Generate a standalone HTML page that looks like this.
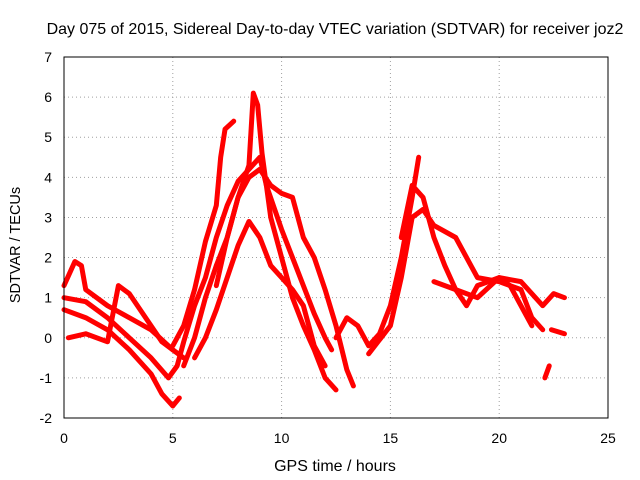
<!DOCTYPE html>
<html><head><meta charset="utf-8"><style>
body{margin:0;background:#fff;}
svg{display:block;font-family:"Liberation Sans",sans-serif;}
</style></head><body>
<svg id="chart" width="640" height="480">
<text x="335" y="34" text-anchor="middle" font-size="16">Day 075 of 2015, Sidereal Day-to-day VTEC variation (SDTVAR) for receiver joz2</text>
<text x="335" y="471" text-anchor="middle" font-size="16">GPS time / hours</text>
<text transform="translate(20,245) rotate(-90)" text-anchor="middle" font-size="14.5">SDTVAR / TECUs</text>
<g id="grid"></g><g id="series"></g><g id="ticks"></g>
<rect x="64" y="57" width="544" height="361" fill="none" stroke="#000"/>
</svg>
<script>
const xTicks=[0,5,10,15,20,25];
const yTicks=[-2,-1,0,1,2,3,4,5,6,7];
const trackA=[[0,1.3],[0.5,1.9],[0.8,1.8],[1,1.2],[2,0.8],[3,0.5],[4,0.2],[5,-0.3],[5.5,-0.5]];
const trackB=[[0,0.7],[1,0.5],[2,0.2],[3,-0.3],[4,-0.9],[4.5,-1.4],[5,-1.7],[5.3,-1.5]];
const trackC=[[0,1.0],[1,0.9],[2,0.5],[3,0],[4,-0.5],[4.8,-1.0],[5.2,-0.7],[5.5,-0.1],[6,0.8],[6.5,1.5],[7,2.5],[7.5,3.3],[8,3.9],[8.5,4.2],[9,4.5],[9.3,3.8],[10,2.7],[10.5,2.0],[11,1.3],[11.5,0.6],[12,0.0],[12.3,-0.3]];
const trackD=[[0.2,0],[1,0.1],[2,-0.1],[2.5,1.3],[3,1.1],[4,0.3],[4.5,-0.1],[5,-0.3]];
const trackE=[[5,-0.2],[5.5,0.3],[6,1.2],[6.5,2.4],[7,3.3],[7.2,4.5],[7.4,5.2],[7.8,5.4]];
const trackF=[[5.5,-0.7],[6,0],[6.5,1],[7,1.8],[7.5,2.5],[8,3.5],[8.5,4.3],[8.7,6.1],[8.9,5.8],[9.1,4.6],[9.5,3.0],[10,2.0],[10.5,1.0],[11,0.3],[11.5,-0.3],[12,-1.0],[12.5,-1.3]];
const trackG=[[6,-0.5],[6.5,0],[7,0.7],[7.5,1.5],[8,2.3],[8.5,2.9],[9,2.5],[9.5,1.8],[10,1.5],[10.5,1.2],[11,0.8],[11.5,-0.2],[12,-0.7]];
const trackH=[[7,1.3],[7.5,2.5],[8,3.5],[8.5,4.0],[9,4.2],[9.5,3.8],[10,3.6],[10.5,3.5],[11,2.5],[11.5,2.0],[12,1.2],[12.5,0.3],[13,-0.8],[13.3,-1.2]];
const trackI=[[12.5,0],[13,0.5],[13.5,0.3],[14,-0.2],[14.5,0.1],[15,0.8],[15.5,2],[16,3.5],[16.3,4.5]];
const trackJ=[[14,-0.4],[15,0.3],[15.5,1.5],[16,3],[16.5,3.2],[17,2.8],[18,2.5],[18.5,2.0],[19,1.5],[20,1.4],[21,1.2],[21.5,0.5],[22,0.2]];
const trackK=[[15.5,2.5],[16,3.8],[16.5,3.5],[17,2.5],[17.5,1.8],[18,1.2],[18.5,0.8],[19,1.3],[20,1.5],[20.5,1.3],[21,0.8],[21.5,0.3]];
const trackL=[[17,1.4],[18,1.2],[19,1.0],[20,1.5],[21,1.4],[22,0.8],[22.5,1.1],[23,1.0]];
const trackM=[[22.1,-1],[22.3,-0.7]];
const trackN=[[22.4,0.2],[23,0.1]];
const tracks=[trackA,trackB,trackC,trackD,trackE,trackF,trackG,trackH,trackI,trackJ,trackK,trackL,trackM,trackN];
const NS="http://www.w3.org/2000/svg";
const X0=64,X1=608,Y0=418,Y1=57;
const sx=v=>X0+(v-0)/(25-0)*(X1-X0);
const sy=v=>Y0-(v+2)/(7+2)*(Y0-Y1);
const grid=document.getElementById('grid'),ticks=document.getElementById('ticks'),ser=document.getElementById('series');
function mk(t,a,p){const e=document.createElementNS(NS,t);for(const k in a)e.setAttribute(k,a[k]);p.appendChild(e);return e;}
xTicks.forEach(v=>{const x=sx(v);
 if(v>0&&v<25){const l=mk('line',{x1:x,x2:x,y1:Y1,y2:Y0,stroke:'#a0a0a0','stroke-dasharray':'1,3'},grid);
 }
 const t=mk('text',{x:x,y:443,'text-anchor':'middle','font-size':14},ticks);t.textContent=v;
 });
yTicks.forEach(v=>{const y=sy(v);
 if(v>-2&&v<7){const l=mk('line',{x1:X0,x2:X1,y1:y,y2:y,stroke:'#a0a0a0','stroke-dasharray':'1,3'},grid);
 }
 const t=mk('text',{x:52,y:y+5,'text-anchor':'end','font-size':14},ticks);t.textContent=v;
 });
tracks.forEach(tr=>{const p=mk('polyline',{points:tr.map(d=>sx(d[0])+','+sy(d[1])).join(' '),fill:'none',stroke:'#f00','stroke-width':5,'stroke-linejoin':'round','stroke-linecap':'round'},ser);
 });
</script>
</body></html>
